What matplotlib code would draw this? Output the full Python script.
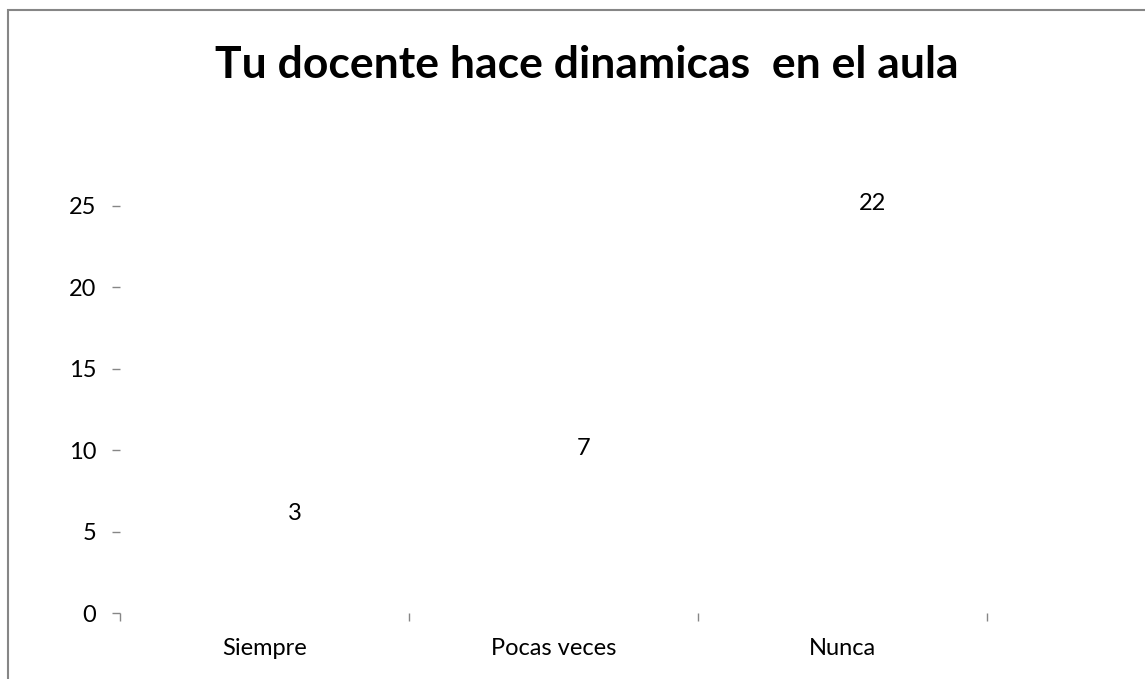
import matplotlib.pyplot as plt
from matplotlib.patches import Rectangle

categorias = ["Siempre", "Pocas veces", "Nunca"]
valores = [3, 7, 22]
yticks = [0, 5, 10, 15, 20, 25]
titulo = "Tu docente hace dinamicas  en el aula"

plt.rcParams['font.family'] = ['Lato', 'DejaVu Sans']

fig = plt.figure(figsize=(11.45, 6.79), dpi=100, facecolor='white')
# marco gris del grafico (recortado abajo y a la derecha)
fig.patches.append(Rectangle((8/1145, -0.05), 1.1, 1 - 10/679 + 0.05,
                             transform=fig.transFigure, fill=False,
                             edgecolor='#868686', linewidth=1.5))

ax = fig.add_axes([120/1145, 1 - 613/679, (987 - 120)/1145, (613 - 206)/679])
x = range(len(categorias))
bars = ax.bar(x, valores, width=0.6, color='none', edgecolor='none')

for b, v in zip(bars, valores):
    ax.annotate(str(v), xy=(b.get_x() + b.get_width()/2, v),
                xytext=(30, 51), textcoords='offset pixels',
                ha='center', va='center', fontsize=17, clip_on=False)

ax.set_xlim(-0.5, 2.5)
ax.set_ylim(0, 25)
ax.set_yticks(yticks)
ax.set_xticks([-0.5, 0.5, 1.5, 2.5])
ax.set_xticklabels([])
ax.set_xticks(list(x), minor=True)
ax.set_xticklabels(categorias, minor=True, fontsize=17)
ax.tick_params(axis='x', which='minor', length=0, pad=18)
ax.tick_params(axis='x', which='major', length=6, color='#868686', width=1)
ax.tick_params(axis='y', length=6, color='#868686', width=1, pad=11, labelsize=17)
for s in ax.spines.values():
    s.set_visible(False)

fig.text(587/1145, 1 - 65/679, titulo, ha='center', va='center',
         fontsize=32, fontweight='bold')

fig.savefig('out.png', dpi=100)
